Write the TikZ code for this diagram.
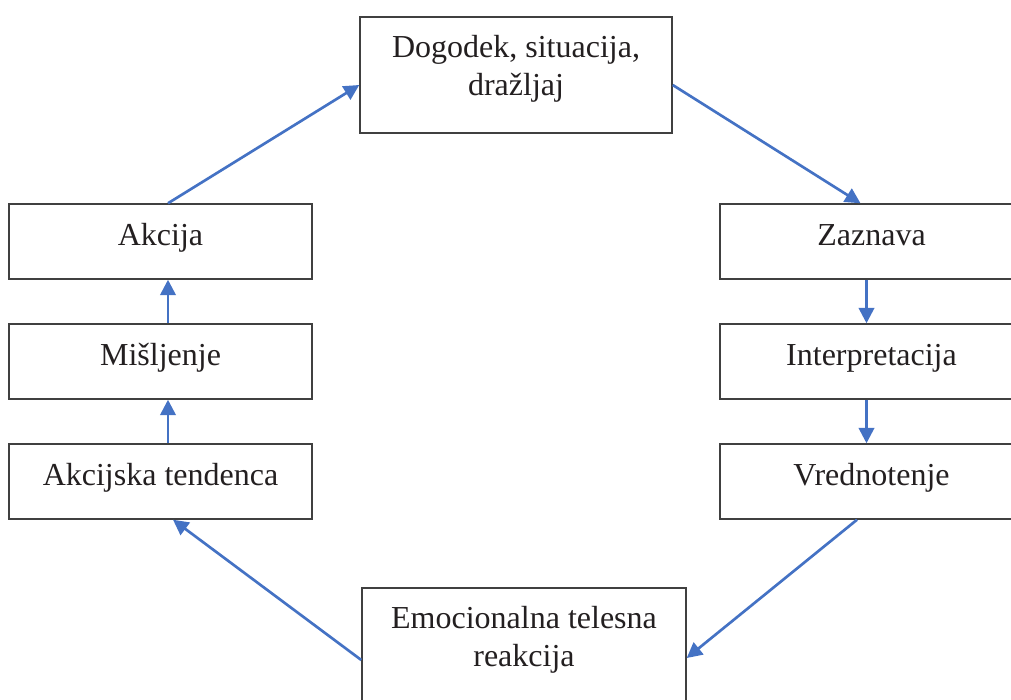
\documentclass[tikz,border=0pt]{standalone}
\usepackage{fontspec}
\setmainfont{Liberation Serif}
\usepackage{tikz}
\usetikzlibrary{calc,arrows.meta,positioning}
\definecolor{wordblue}{RGB}{68,114,196}
\definecolor{boxgrey}{RGB}{64,64,64}
\definecolor{textblack}{RGB}{35,31,32}

\begin{document}
\begin{tikzpicture}[x=0.75pt,y=-0.75pt]

\tikzset{stepnode/.style={font=\fontsize{24pt}{28.5pt}\selectfont,text=textblack,draw=boxgrey,line width=1.1pt,inner sep=0pt,minimum width=227.25pt,minimum height=56.25pt,text height=17pt,text depth=11.75pt,shape=rectangle},
bignode/.style={font=\fontsize{24pt}{28.5pt}\selectfont,text=textblack,draw=boxgrey,line width=1.1pt,inner sep=0pt,minimum height=87pt,align=center,shape=rectangle},
flow/.style={draw=wordblue,line width=2pt,-{Triangle[length=11.5pt,width=11.5pt]}}}

\useasboundingbox (0,0) rectangle (1011,700);
\clip (0,0) rectangle (1011,700);

% Top and bottom nodes
\node[bignode,minimum width=234pt] (dog) at (516,75) {\rule{0pt}{17pt}Dogodek, situacija,\\dražljaj\rule[-15.5pt]{0pt}{15.5pt}};
\node[bignode,minimum width=243pt] (emo) at (524,646) {\rule{0pt}{17pt}Emocionalna telesna\\reakcija\rule[-15.5pt]{0pt}{15.5pt}};

% Right column
\node[stepnode] (zaz) at (871.5,241.5) {Zaznava};
\node[stepnode] (int) at (871.5,361.5) {Interpretacija};
\node[stepnode] (vre) at (871.5,481.5) {Vrednotenje};

% Left column
\node[stepnode] (akc) at (160.5,241.5) {Akcija};
\node[stepnode] (mis) at (160.5,361.5) {Mišljenje};
\node[stepnode] (akt) at (160.5,481.5) {Akcijska tendenca};

% Edges
\draw[flow] ($(akc.north)+(7.5,0)$) -- ($(dog.west)+(0,10)$); \draw[flow] ($(dog.east)+(0,10)$) -- ($(zaz.north)+(-11,0)$);
\draw[flow] ($(zaz.south)+(-5,0)$) -- ($(int.north)+(-5,0)$); \draw[flow] ($(int.south)+(-5,0)$) -- ($(vre.north)+(-5,0)$);
\draw[flow] ($(vre.south)+(-14.5,0)$) -- ($(emo.east)+(0,12)$); \draw[flow] ($(emo.west)+(0,14)$) -- ($(akt.south)+(12.5,0)$);
\draw[flow] ($(akt.north)+(7.5,0)$) -- ($(mis.south)+(7.5,0)$); \draw[flow] ($(mis.north)+(7.5,0)$) -- ($(akc.south)+(7.5,0)$);

\end{tikzpicture}
\end{document}
